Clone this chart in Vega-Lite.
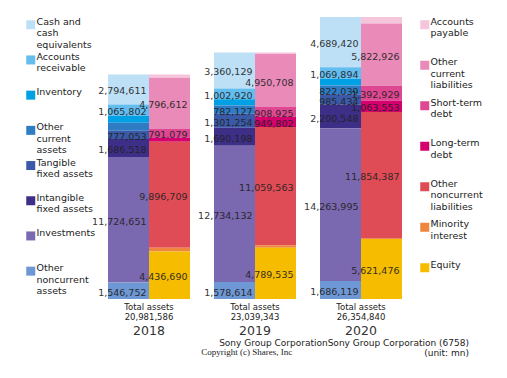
{
  "$schema": "https://vega.github.io/schema/vega-lite/v6.json",
  "width": 318,
  "height": 282,
  "autosize": {"type": "none"},
  "padding": {"left": 96, "top": 17, "right": 93, "bottom": 79},
  "background": "white",
  "config": {"font": "DejaVu Sans", "view": {"stroke": null}, "legend": {"padding": 0}},
  "title": {
    "text": ["Sony Group CorporationSony Group Corporation (6758)", "(unit: mn)"],
    "orient": "bottom", "anchor": "end", "frame": "group", "align": "right", "baseline": "top",
    "dx": 55, "offset": -17,
    "font": "DejaVu Sans", "fontSize": 9, "fontWeight": "normal", "color": "#222", "lineHeight": 9.5
  },
  "datasets": {
    "bs": [
      {"year": "2018", "side": "Assets", "item": "Cash and cash equivalents", "value": 2794611},
      {"year": "2018", "side": "Assets", "item": "Accounts receivable", "value": 1065802},
      {"year": "2018", "side": "Assets", "item": "Inventory", "value": 650000},
      {"year": "2018", "side": "Assets", "item": "Other current assets", "value": 736199},
      {"year": "2018", "side": "Assets", "item": "Tangible fixed assets", "value": 777053},
      {"year": "2018", "side": "Assets", "item": "Intangible fixed assets", "value": 1686518},
      {"year": "2018", "side": "Assets", "item": "Investments", "value": 11724651},
      {"year": "2018", "side": "Assets", "item": "Other noncurrent assets", "value": 1546752},
      {"year": "2018", "side": "Liabilities", "item": "Accounts payable", "value": 300000},
      {"year": "2018", "side": "Liabilities", "item": "Other current liabilities", "value": 4796612},
      {"year": "2018", "side": "Liabilities", "item": "Short-term debt", "value": 791079},
      {"year": "2018", "side": "Liabilities", "item": "Long-term debt", "value": 400000},
      {"year": "2018", "side": "Liabilities", "item": "Other noncurrent liabilities", "value": 9896709},
      {"year": "2018", "side": "Liabilities", "item": "Minority interest", "value": 360496},
      {"year": "2018", "side": "Liabilities", "item": "Equity", "value": 4436690},
      {"year": "2019", "side": "Assets", "item": "Cash and cash equivalents", "value": 3360129},
      {"year": "2019", "side": "Assets", "item": "Accounts receivable", "value": 1002920},
      {"year": "2019", "side": "Assets", "item": "Inventory", "value": 589969},
      {"year": "2019", "side": "Assets", "item": "Other current assets", "value": 782127},
      {"year": "2019", "side": "Assets", "item": "Tangible fixed assets", "value": 1301254},
      {"year": "2019", "side": "Assets", "item": "Intangible fixed assets", "value": 1690198},
      {"year": "2019", "side": "Assets", "item": "Investments", "value": 12734132},
      {"year": "2019", "side": "Assets", "item": "Other noncurrent assets", "value": 1578614},
      {"year": "2019", "side": "Liabilities", "item": "Accounts payable", "value": 150000},
      {"year": "2019", "side": "Liabilities", "item": "Other current liabilities", "value": 4950708},
      {"year": "2019", "side": "Liabilities", "item": "Short-term debt", "value": 908925},
      {"year": "2019", "side": "Liabilities", "item": "Long-term debt", "value": 949802},
      {"year": "2019", "side": "Liabilities", "item": "Other noncurrent liabilities", "value": 11059563},
      {"year": "2019", "side": "Liabilities", "item": "Minority interest", "value": 230810},
      {"year": "2019", "side": "Liabilities", "item": "Equity", "value": 4789535},
      {"year": "2020", "side": "Assets", "item": "Cash and cash equivalents", "value": 4689420},
      {"year": "2020", "side": "Assets", "item": "Accounts receivable", "value": 1069894},
      {"year": "2020", "side": "Assets", "item": "Inventory", "value": 637391},
      {"year": "2020", "side": "Assets", "item": "Other current assets", "value": 822039},
      {"year": "2020", "side": "Assets", "item": "Tangible fixed assets", "value": 985434},
      {"year": "2020", "side": "Assets", "item": "Intangible fixed assets", "value": 2200548},
      {"year": "2020", "side": "Assets", "item": "Investments", "value": 14263995},
      {"year": "2020", "side": "Assets", "item": "Other noncurrent assets", "value": 1686119},
      {"year": "2020", "side": "Liabilities", "item": "Accounts payable", "value": 599569},
      {"year": "2020", "side": "Liabilities", "item": "Other current liabilities", "value": 5822926},
      {"year": "2020", "side": "Liabilities", "item": "Short-term debt", "value": 1392929},
      {"year": "2020", "side": "Liabilities", "item": "Long-term debt", "value": 1063553},
      {"year": "2020", "side": "Liabilities", "item": "Other noncurrent liabilities", "value": 11854387},
      {"year": "2020", "side": "Liabilities", "item": "Minority interest", "value": 0},
      {"year": "2020", "side": "Liabilities", "item": "Equity", "value": 5621476}
    ],
    "items": [
      {"item": "Other noncurrent assets", "rank": 1},
      {"item": "Investments", "rank": 2},
      {"item": "Intangible fixed assets", "rank": 3},
      {"item": "Tangible fixed assets", "rank": 4},
      {"item": "Other current assets", "rank": 5},
      {"item": "Inventory", "rank": 6},
      {"item": "Accounts receivable", "rank": 7},
      {"item": "Cash and cash equivalents", "rank": 8},
      {"item": "Equity", "rank": 1},
      {"item": "Minority interest", "rank": 2},
      {"item": "Other noncurrent liabilities", "rank": 3},
      {"item": "Long-term debt", "rank": 4},
      {"item": "Short-term debt", "rank": 5},
      {"item": "Other current liabilities", "rank": 6},
      {"item": "Accounts payable", "rank": 7}
    ],
    "totals": [
      {"year": "2018", "total": 20981586},
      {"year": "2019", "total": 23039343},
      {"year": "2020", "total": 26354840}
    ]
  },
  "encoding": {
    "x": {
      "field": "year", "type": "nominal",
      "scale": {"paddingInner": 0.2264, "paddingOuter": 0.1132},
      "axis": {
        "title": "Copyright (c) Shares, Inc", "titleX": 104.7, "titleY": 52, "titleAlign": "left", "titleBaseline": "middle",
        "titleFont": "Liberation Serif", "titleFontSize": 9, "titleFontWeight": "normal", "titleColor": "#222",
        "labelAngle": 0, "labelFontSize": 12.5, "labelColor": "#333", "labelBaseline": "middle", "labelPadding": 31.5,
        "ticks": false, "tickSize": 0, "domain": false, "grid": false
      }
    }
  },
  "layer": [
    {
      "data": {"name": "bs"},
      "transform": [
        {"lookup": "item", "from": {"data": {"name": "items"}, "key": "item", "fields": ["rank"]}},
        {"filter": "datum.side == 'Assets'"}
      ],
      "mark": {"type": "bar"},
      "encoding": {
        "xOffset": {"field": "side", "type": "nominal", "scale": {"domain": ["Assets", "Liabilities"], "paddingInner": 0, "paddingOuter": 0}},
        "y": {
          "field": "value", "type": "quantitative", "stack": "zero",
          "scale": {"domain": [0, 26354840], "nice": false, "zero": true},
          "axis": null
        },
        "order": {"field": "rank", "type": "quantitative", "sort": "ascending"},
        "color": {
          "field": "item", "type": "nominal",
          "sort": ["Cash and cash equivalents", "Accounts receivable", "Inventory", "Other current assets", "Tangible fixed assets", "Intangible fixed assets", "Investments", "Other noncurrent assets"],
          "scale": {"range": ["#bde0f6", "#64bdef", "#00a0e4", "#2e7cc4", "#3a5aa8", "#3d2f88", "#7a68b0", "#6e97d5"]},
          "legend": {
            "orient": "none", "legendX": -70, "legendY": 3, "title": null,
            "symbolType": "square", "symbolSize": 81, "symbolStrokeWidth": 0,
            "labelFontSize": 9.5, "labelColor": "#222", "labelBaseline": "alphabetic", "labelOffset": 1, "labelLimit": 200, "rowPadding": 1.2,
            "labelExpr": "datum.label == 'Cash and cash equivalents' ? ['Cash and','cash','equivalents'] : datum.label == 'Accounts receivable' ? ['Accounts','receivable',''] : datum.label == 'Inventory' ? ['Inventory','',''] : datum.label == 'Other current assets' ? ['Other','current','assets'] : datum.label == 'Tangible fixed assets' ? ['Tangible','fixed assets',''] : datum.label == 'Intangible fixed assets' ? ['Intangible','fixed assets',''] : datum.label == 'Investments' ? ['Investments','',''] : ['Other','noncurrent','assets']"
          }
        }
      }
    },
    {
      "data": {"name": "bs"},
      "transform": [
        {"lookup": "item", "from": {"data": {"name": "items"}, "key": "item", "fields": ["rank"]}},
        {"filter": "datum.side == 'Liabilities'"}
      ],
      "mark": {"type": "bar"},
      "encoding": {
        "xOffset": {"field": "side", "type": "nominal", "scale": {"domain": ["Assets", "Liabilities"], "paddingInner": 0, "paddingOuter": 0}},
        "y": {"field": "value", "type": "quantitative", "stack": "zero", "axis": null},
        "order": {"field": "rank", "type": "quantitative", "sort": "ascending"},
        "color": {
          "field": "item", "type": "nominal",
          "sort": ["Accounts payable", "Other current liabilities", "Short-term debt", "Long-term debt", "Other noncurrent liabilities", "Minority interest", "Equity"],
          "scale": {"range": ["#f5c5dc", "#e98ab9", "#df4792", "#d5006e", "#e04c56", "#ee8640", "#f6bd00"]},
          "legend": {
            "orient": "none", "legendX": 324, "legendY": 3, "title": null,
            "symbolType": "square", "symbolSize": 81, "symbolStrokeWidth": 0,
            "labelFontSize": 9.5, "labelColor": "#222", "labelBaseline": "alphabetic", "labelOffset": 1, "labelLimit": 200, "rowPadding": 6.5,
            "labelExpr": "datum.label == 'Accounts payable' ? ['Accounts','payable',''] : datum.label == 'Other current liabilities' ? ['Other','current','liabilities'] : datum.label == 'Short-term debt' ? ['Short-term','debt',''] : datum.label == 'Long-term debt' ? ['Long-term','debt',''] : datum.label == 'Other noncurrent liabilities' ? ['Other','noncurrent','liabilities'] : datum.label == 'Minority interest' ? ['Minority','interest',''] : ['Equity','','']"
          }
        }
      }
    },
    {
      "data": {"name": "bs"},
      "transform": [
        {"lookup": "item", "from": {"data": {"name": "items"}, "key": "item", "fields": ["rank"]}},
        {"filter": "datum.side == 'Assets'"}
      ],
      "mark": {"type": "text", "align": "right", "baseline": "middle", "dx": 18, "dy": 2, "fontSize": 9.5, "fill": "#222"},
      "encoding": {
        "xOffset": {"field": "side", "type": "nominal", "scale": {"domain": ["Assets", "Liabilities"], "paddingInner": 0, "paddingOuter": 0}},
        "y": {"field": "value", "type": "quantitative", "stack": "zero", "bandPosition": 0.5, "axis": null},
        "order": {"field": "rank", "type": "quantitative", "sort": "ascending"},
        "text": {"field": "value", "type": "quantitative", "format": ","},
        "opacity": {"condition": {"test": "datum.value < 750000", "value": 0}, "value": 0.9}
      }
    },
    {
      "data": {"name": "bs"},
      "transform": [
        {"lookup": "item", "from": {"data": {"name": "items"}, "key": "item", "fields": ["rank"]}},
        {"filter": "datum.side == 'Liabilities'"}
      ],
      "mark": {"type": "text", "align": "right", "baseline": "middle", "dx": 18, "dy": 2, "fontSize": 9.5, "fill": "#222"},
      "encoding": {
        "xOffset": {"field": "side", "type": "nominal", "scale": {"domain": ["Assets", "Liabilities"], "paddingInner": 0, "paddingOuter": 0}},
        "y": {"field": "value", "type": "quantitative", "stack": "zero", "bandPosition": 0.5, "axis": null},
        "order": {"field": "rank", "type": "quantitative", "sort": "ascending"},
        "text": {"field": "value", "type": "quantitative", "format": ","},
        "opacity": {"condition": {"test": "datum.value < 750000", "value": 0}, "value": 0.9}
      }
    },
    {
      "data": {"name": "totals"},
      "mark": {"type": "text", "baseline": "middle", "dy": 7.5, "fontSize": 8.5, "fill": "#222", "text": "Total assets"},
      "encoding": {"y": {"datum": 0, "type": "quantitative", "axis": null}}
    },
    {
      "data": {"name": "totals"},
      "mark": {"type": "text", "baseline": "middle", "dy": 17.5, "fontSize": 8.5, "fill": "#222"},
      "encoding": {
        "y": {"datum": 0, "type": "quantitative", "axis": null},
        "text": {"field": "total", "type": "quantitative", "format": ","}
      }
    }
  ],
  "resolve": {"scale": {"color": "independent"}}
}
